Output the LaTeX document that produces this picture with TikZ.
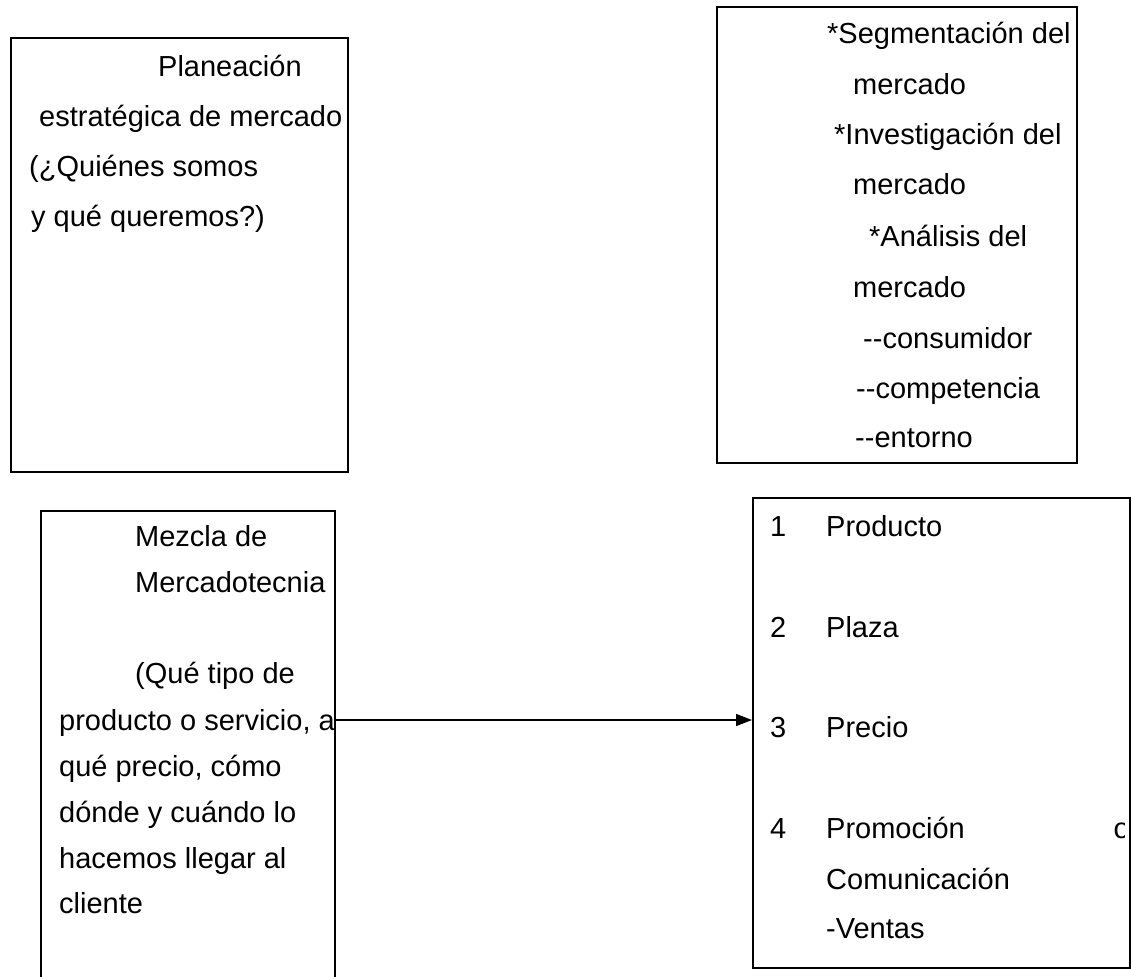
\documentclass[tikz,border=0pt]{standalone}
\usepackage{fontspec}
\setmainfont{Liberation Sans}
\usetikzlibrary{arrows.meta}
\begin{document}
\begin{tikzpicture}[x=1pt,y=1pt,
  box/.style={draw=black,line width=1.6pt,inner sep=0pt,anchor=north west},
  txt/.style={anchor=base west,inner sep=0pt,font=\fontsize{29}{35}\selectfont},
  conn/.style={line width=1.5pt,-{Triangle[length=16pt,width=12pt]}}]
\useasboundingbox (0,0) rectangle (1131,-976);
\clip (0,0) rectangle (1131,-976);
\fill[white] (0,0) rectangle (1131,-976);
% boxes
\node[box,minimum width=337pt,minimum height=434pt] (b1) at (10,-37) {};
\node[box,minimum width=360pt,minimum height=456pt] (b2) at (716,-6) {};
\node[box,minimum width=294pt,minimum height=500pt] (b3) at (40,-510) {};
\node[box,minimum width=377pt,minimum height=470pt] (b4) at (752,-497) {};
% box 1 text
\node[txt] (t11) at (158,-76.7) {Planeación};
\node[txt] (t12) at (39,-126.7) {estratégica de mercado};
\node[txt] (t13) at (29,-176.7) {(¿Quiénes somos};
\node[txt] (t14) at (31,-226.7) {y qué queremos?)};
% box 2 text
\node[txt] (t21) at (827,-44) {*Segmentación del};
\node[txt] (t22) at (853,-95) {mercado};
\node[txt] (t23) at (834,-145) {*Investigación del};
\node[txt] (t24) at (853,-195) {mercado};
\node[txt] (t25) at (869,-246) {*Análisis del};
\node[txt] (t26) at (853,-297) {mercado};
\node[txt] (t27) at (863,-348) {-{}-consumidor};
\node[txt] (t28) at (856,-398) {-{}-competencia};
\node[txt] (t29) at (855,-447) {-{}-entorno};
% box 3 text
\node[txt] (t31) at (135,-546) {Mezcla de};
\node[txt] (t32) at (135,-592) {Mercadotecnia};
\node[txt] (t33) at (135,-683) {(Qué tipo de};
\node[txt] (t34) at (59,-730) {producto o servicio, a};
\node[txt] (t35) at (59,-776) {qué precio, cómo};
\node[txt] (t36) at (59,-822) {dónde y cuándo lo};
\node[txt] (t37) at (59,-868) {hacemos llegar al};
\node[txt] (t38) at (59,-913) {cliente};
% box 4 text
\node[txt] (n1) at (770,-536) {1};
\node[txt] (p1) at (826,-536) {Producto};
\node[txt] (n2) at (770,-637) {2};
\node[txt] (p2) at (826,-637) {Plaza};
\node[txt] (n3) at (770,-737) {3};
\node[txt] (p3) at (826,-737) {Precio};
\node[txt] (n4) at (770,-838) {4};
\node[txt] (p4) at (826,-838) {Promoción};
\begin{scope}
\clip (b4.north west) rectangle ([xshift=-6pt]b4.south east);
\node[txt] (p4o) at (1113.5,-838) {o};
\end{scope}
\node[txt] (p5) at (826,-889) {Comunicación};
\node[txt] (p6) at (826,-938) {-Ventas};
% connector
\draw[conn] (b3.east |- 0,-720) -- (b4.west |- 0,-720);
\end{tikzpicture}
\end{document}
